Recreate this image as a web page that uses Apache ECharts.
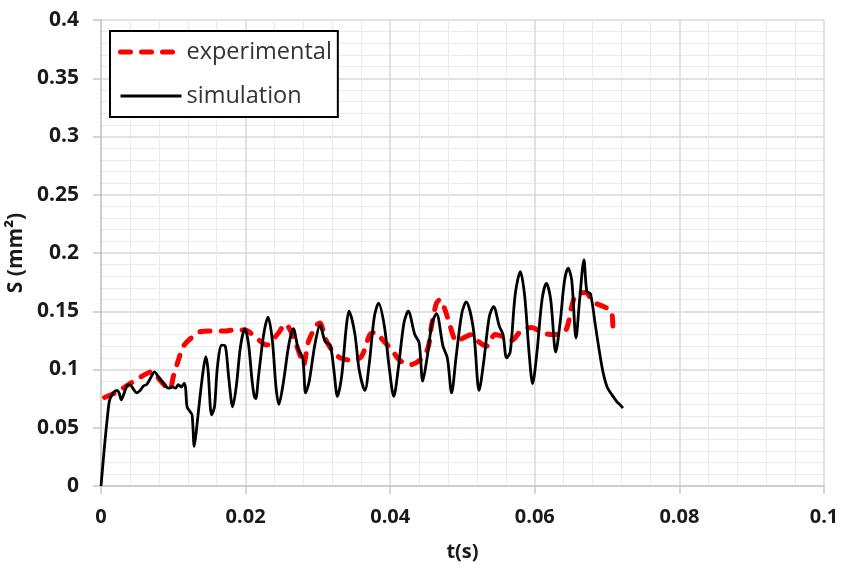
<!DOCTYPE html>
<html>
<head>
<meta charset="utf-8">
<script src="https://cdn.jsdelivr.net/npm/echarts@6/dist/echarts.min.js"></script>
<style>
  html, body { margin: 0; padding: 0; background: #fff; }
  #chart { width: 856px; height: 569px; }
</style>
</head>
<body>
<div id="chart"></div>
<script>
// Axis ranges and tick spacing
const xTicks = [0, 0.02, 0.04, 0.06, 0.08, 0.1];
const yTicks = [0, 0.05, 0.1, 0.15, 0.2, 0.25, 0.3, 0.35, 0.4];

// Series names
const seriesNames = ['experimental', 'simulation'];

// Measured cross-section S (mm²) over time t (s)
const expT = [0.0005, 0.0020, 0.0038, 0.0056, 0.0070, 0.0084, 0.0095, 0.0100, 0.0107, 0.0114,
  0.0123, 0.0135, 0.0150, 0.0170, 0.0185, 0.0199, 0.0215, 0.0229, 0.0245, 0.0255,
  0.0266, 0.0276, 0.0280, 0.0287, 0.0298, 0.0303, 0.0310, 0.0319, 0.0331, 0.0347,
  0.0360, 0.0372, 0.0379, 0.0390, 0.0402, 0.0413, 0.0427, 0.0441, 0.0452, 0.0457,
  0.0464, 0.0469, 0.0476, 0.0483, 0.0492, 0.0501, 0.0513, 0.0522, 0.0533, 0.0545,
  0.0557, 0.0568, 0.0582, 0.0596, 0.0609, 0.0623, 0.0635, 0.0644, 0.0651, 0.0658,
  0.0670, 0.0681, 0.0695, 0.0706, 0.0708];
const expS = [0.076, 0.080, 0.087, 0.094, 0.098, 0.089, 0.083, 0.094, 0.108, 0.120,
  0.126, 0.132, 0.133, 0.133, 0.134, 0.134, 0.127, 0.121, 0.131, 0.139,
  0.128, 0.111, 0.104, 0.124, 0.138, 0.140, 0.127, 0.117, 0.110, 0.108,
  0.111, 0.130, 0.132, 0.125, 0.117, 0.108, 0.104, 0.108, 0.118, 0.137,
  0.157, 0.160, 0.151, 0.137, 0.124, 0.127, 0.130, 0.124, 0.120, 0.130,
  0.128, 0.125, 0.134, 0.136, 0.132, 0.130, 0.130, 0.135, 0.154, 0.165,
  0.166, 0.158, 0.154, 0.150, 0.135];

// Simulated cross-section S (mm²) over time t (s)
const simT = [0, 0.0005, 0.0009, 0.0012, 0.0017, 0.0022, 0.0025, 0.0028, 0.0031, 0.0036,
  0.0040, 0.0045, 0.0049, 0.0054, 0.0059, 0.0063, 0.0068, 0.0074, 0.0079, 0.0084,
  0.0089, 0.0093, 0.0099, 0.0103, 0.0107, 0.0111, 0.0115, 0.0117, 0.0119, 0.0123,
  0.0126, 0.0129, 0.0132, 0.0137, 0.0142, 0.0145, 0.0148, 0.0153, 0.0157, 0.0161,
  0.0167, 0.0172, 0.0176, 0.0180, 0.0182, 0.0187, 0.0193, 0.0199, 0.0204, 0.0209,
  0.0212, 0.0214, 0.0218, 0.0225, 0.0231, 0.0237, 0.0242, 0.0246, 0.0252, 0.0260,
  0.0266, 0.0273, 0.0279, 0.0283, 0.0288, 0.0296, 0.0303, 0.0310, 0.0317, 0.0322,
  0.0327, 0.0333, 0.0339, 0.0343, 0.0351, 0.0357, 0.0365, 0.0371, 0.0378, 0.0384,
  0.0392, 0.0398, 0.0405, 0.0411, 0.0419, 0.0425, 0.0434, 0.0440, 0.0445, 0.0451,
  0.0458, 0.0464, 0.0473, 0.0479, 0.0485, 0.0491, 0.0499, 0.0505, 0.0515, 0.0523,
  0.0529, 0.0537, 0.0543, 0.0551, 0.0556, 0.0561, 0.0566, 0.0573, 0.0580, 0.0586,
  0.0592, 0.0597, 0.0603, 0.0610, 0.0616, 0.0622, 0.0629, 0.0635, 0.0641, 0.0646,
  0.0651, 0.0657, 0.0662, 0.0668, 0.0672, 0.0677, 0.0684, 0.0693, 0.0700, 0.0707,
  0.0714, 0.0719, 0.0722];
const simS = [0, 0.035, 0.060, 0.074, 0.080, 0.082, 0.080, 0.074, 0.078, 0.086,
  0.087, 0.083, 0.080, 0.082, 0.086, 0.087, 0.092, 0.098, 0.094, 0.090,
  0.086, 0.084, 0.085, 0.084, 0.087, 0.085, 0.088, 0.084, 0.068, 0.064,
  0.061, 0.034, 0.048, 0.077, 0.102, 0.111, 0.100, 0.061, 0.068, 0.102,
  0.121, 0.120, 0.097, 0.074, 0.068, 0.085, 0.120, 0.135, 0.122, 0.090,
  0.077, 0.075, 0.095, 0.130, 0.145, 0.125, 0.085, 0.070, 0.088, 0.122,
  0.135, 0.117, 0.110, 0.080, 0.090, 0.122, 0.138, 0.124, 0.121, 0.100,
  0.077, 0.095, 0.135, 0.150, 0.131, 0.100, 0.082, 0.105, 0.145, 0.157,
  0.137, 0.105, 0.077, 0.100, 0.140, 0.150, 0.130, 0.123, 0.090, 0.110,
  0.140, 0.148, 0.120, 0.110, 0.080, 0.110, 0.148, 0.158, 0.135, 0.082,
  0.105, 0.145, 0.154, 0.137, 0.130, 0.110, 0.115, 0.165, 0.184, 0.163,
  0.115, 0.088, 0.115, 0.160, 0.174, 0.160, 0.115, 0.140, 0.176, 0.187,
  0.177, 0.127, 0.160, 0.194, 0.167, 0.165, 0.137, 0.102, 0.085, 0.078,
  0.072, 0.069, 0.067];

const zip = (a, b) => a.map((v, i) => [v, b[i]]);

const labelFont = {
  fontFamily: 'Open Sans',
  fontWeight: 'bold',
  fontSize: 20,
  color: '#1a1a1a'
};

const expLine = { color: '#ff0000', width: 5, type: [10, 11], cap: 'round' };
const simLine = { color: '#000000', width: 2.8, join: 'round' };

const chart = echarts.init(document.getElementById('chart'), null, { renderer: 'canvas' });

chart.setOption({
  animation: false,
  backgroundColor: '#ffffff',
  grid: { left: 101, right: 32, top: 20, bottom: 83, containLabel: false, outerBoundsMode: 'none' },
  legend: {
    orient: 'vertical',
    left: 110,
    top: 31,
    data: [
      { name: seriesNames[0], lineStyle: expLine, itemStyle: { opacity: 0 } },
      { name: seriesNames[1], lineStyle: simLine, itemStyle: { opacity: 0 } }
    ],
    itemStyle: { opacity: 0 },
    backgroundColor: '#ffffff',
    borderColor: '#000000',
    borderWidth: 2,
    borderRadius: 0,
    padding: [9, 6, 9, 8],
    itemWidth: 61,
    itemHeight: 14,
    itemGap: 20,
    textStyle: { fontFamily: 'Open Sans', fontSize: 23.5, color: '#333333' }
  },
  xAxis: {
    type: 'value',
    min: xTicks[0],
    max: xTicks[xTicks.length - 1],
    interval: 0.02,
    name: 't(s)',
    nameLocation: 'middle',
    nameGap: 56,
    nameTextStyle: Object.assign({}, labelFont, { fontSize: 20 }),
    axisLine: { show: true, lineStyle: { color: '#c8c8c8', width: 1.5 } },
    axisTick: { show: true, inside: false, length: 8, lineStyle: { color: '#c8c8c8', width: 1.5 } },
    axisLabel: Object.assign({ margin: 21, formatter: v => String(+v.toFixed(2)) }, labelFont),
    splitLine: { show: true, lineStyle: { color: '#d9d9d9', width: 1.5 } },
    minorTick: { show: false, splitNumber: 5 },
    minorSplitLine: { show: true, lineStyle: { color: '#ebebeb', width: 1 } }
  },
  yAxis: {
    type: 'value',
    min: yTicks[0],
    max: yTicks[yTicks.length - 1],
    interval: 0.05,
    name: 'S (mm²)',
    nameLocation: 'middle',
    nameGap: 60,
    nameRotate: 90,
    nameTextStyle: Object.assign({}, labelFont, { fontSize: 21 }),
    axisLine: { show: true, lineStyle: { color: '#c8c8c8', width: 1.5 } },
    axisTick: { show: true, inside: false, length: 8, lineStyle: { color: '#c8c8c8', width: 1.5 } },
    axisLabel: Object.assign({ margin: 22, formatter: v => String(+v.toFixed(2)) }, labelFont, { fontSize: 21 }),
    splitLine: { show: true, lineStyle: { color: '#d9d9d9', width: 1.5 } },
    minorTick: { show: false, splitNumber: 5 },
    minorSplitLine: { show: true, lineStyle: { color: '#ebebeb', width: 1 } }
  },
  series: [
    {
      name: seriesNames[0],
      type: 'line',
      data: zip(expT, expS),
      showSymbol: false,
      symbol: 'none',
      smooth: 0.3,
      z: 3,
      lineStyle: expLine,
      itemStyle: { color: '#ff0000' }
    },
    {
      name: seriesNames[1],
      type: 'line',
      data: zip(simT, simS),
      showSymbol: false,
      symbol: 'none',
      smooth: 0.3,
      z: 4,
      lineStyle: simLine,
      itemStyle: { color: '#000000' }
    }
  ]
});
</script>
</body>
</html>
